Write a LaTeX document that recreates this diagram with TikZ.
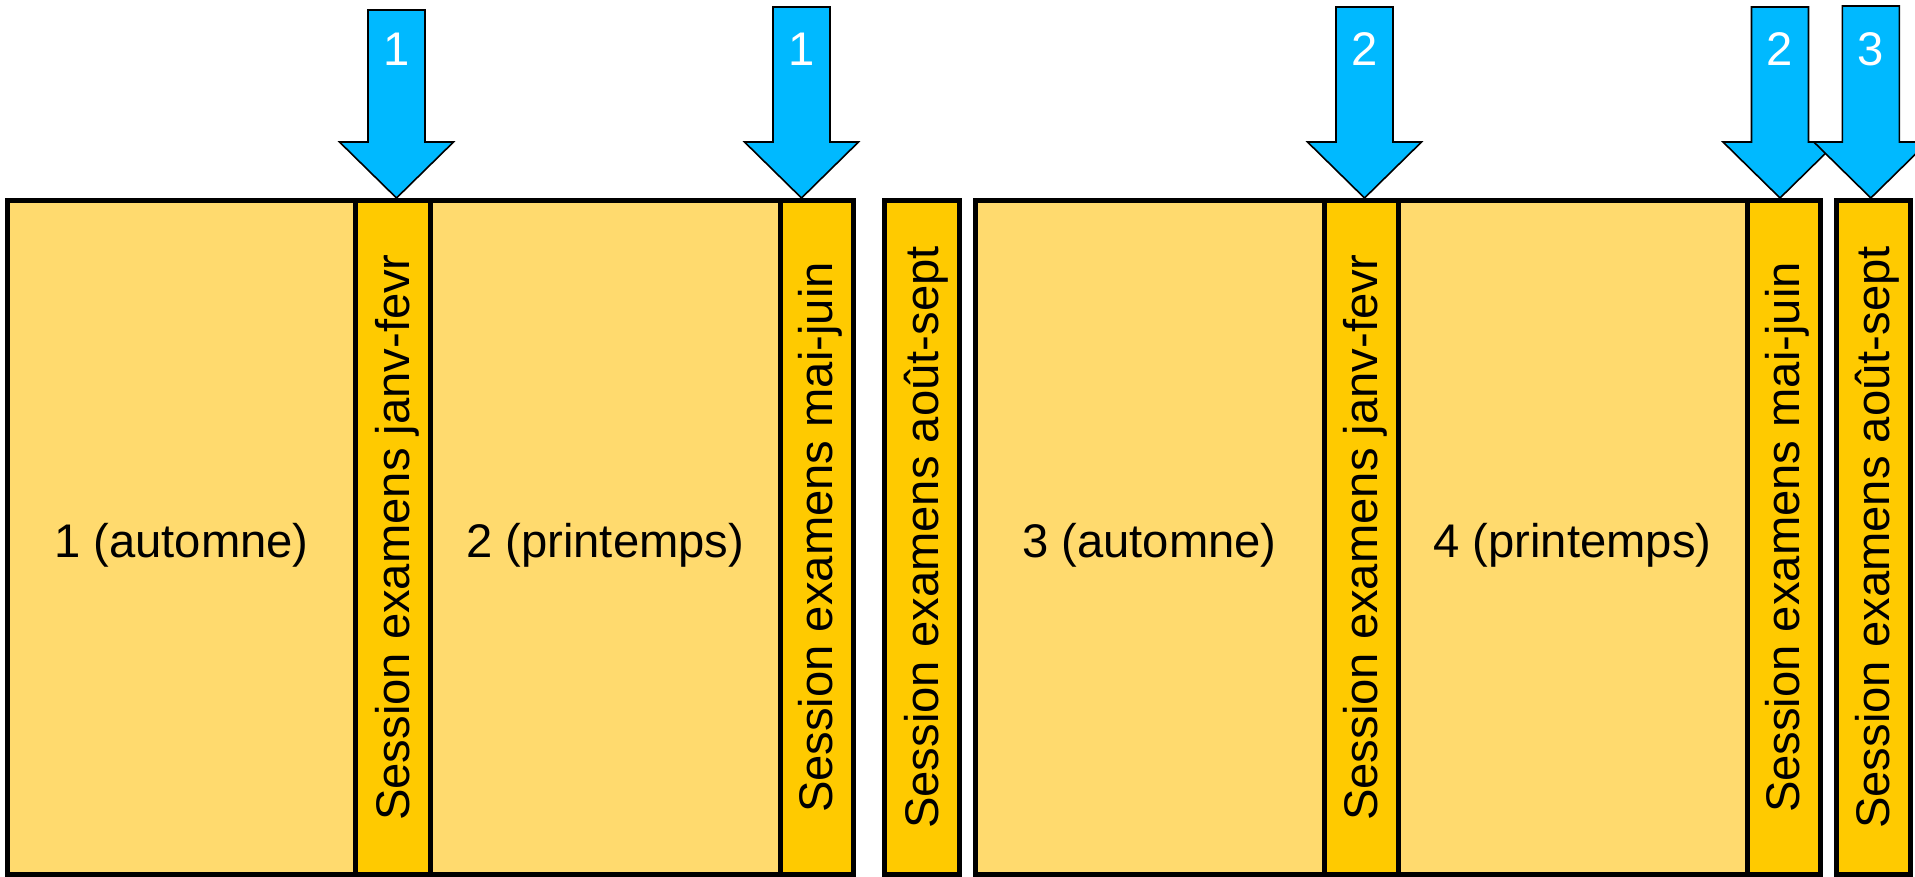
\documentclass[tikz,border=0pt]{standalone}
\usepackage{fontspec}
\setmainfont{Liberation Sans}
\usepackage{tikz}
\definecolor{termyellow}{HTML}{FFDA6E}
\definecolor{examyellow}{HTML}{FFCA00}
\definecolor{arrowblue}{HTML}{00B9FF}
\tikzset{
    term/.style={draw, line width=2.5pt, fill=termyellow},
    exam/.style={draw, line width=2.5pt, fill=examyellow},
    term label/.style={font=\fontsize{23.6pt}{28pt}\selectfont, yshift=-4pt},
    exam label/.style={font=\fontsize{23.6pt}{28pt}\selectfont, rotate=90, yshift=-2pt},
    bigarrow/.style={draw, line width=0.8pt, fill=arrowblue},
    arrowlabel/.style={font=\fontsize{23.6pt}{28pt}\selectfont, text=white}
}

\begin{document}
\begin{tikzpicture}[x=0.5pt, y=-0.5pt]
            \useasboundingbox (0,0) rectangle (1915,877);
            \foreach \a/\b/\kind/\txt [count=\i] in {
                7.5/355.5/term/1 (automne),
                355.5/430.5/exam/Session examens janv-fevr,
                430.5/780/term/2 (printemps),
                780/853.5/exam/Session examens mai-juin,
                884.5/959.5/exam/Session examens août-sept,
                975/1324/term/3 (automne),
                1324/1398/exam/Session examens janv-fevr,
                1398/1747/term/4 (printemps),
                1747/1820.5/exam/Session examens mai-juin,
                1836.5/1910.5/exam/Session examens août-sept} {
                \draw[\kind] (\a,200.5) rectangle (\b,874.5);
                \node[\kind\space label] (cell\i) at ({(\a+\b)/2},537.5) {\txt};
            }

            \foreach \x/\top/\n [count=\i] in {396.5/10/1, 801.5/7/1, 1364.5/7/2, 1780/7/2, 1870.8/6/3} {
                \draw[bigarrow] (\x-28.5,\top) -- (\x+28.5,\top) -- (\x+28.5,142) -- (\x+57,142)
                    -- (\x,198) -- (\x-57,142) -- (\x-28.5,142) -- cycle;
                \node[arrowlabel] (num\i) at (\x,49) {\n};
            }
        \end{tikzpicture}
\end{document}
